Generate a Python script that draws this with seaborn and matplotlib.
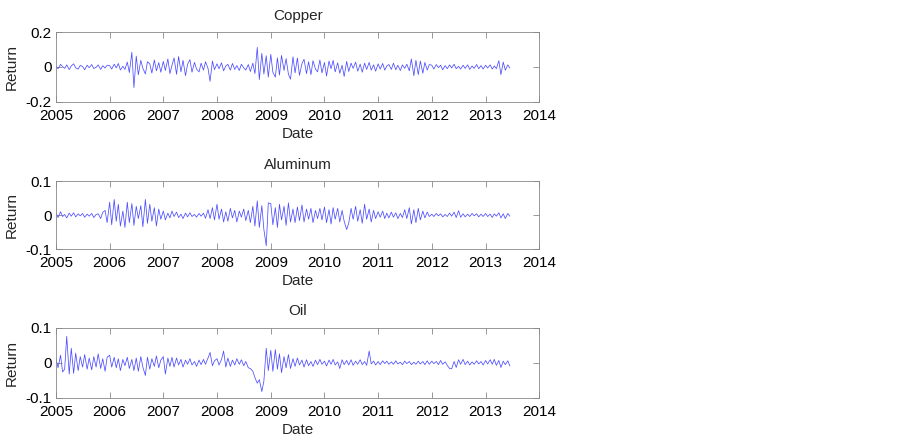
import pandas as pd
import matplotlib
matplotlib.use("Agg")
import matplotlib.pyplot as plt
import matplotlib.dates as mdates
import seaborn as sns

# Returns, in thousandths, twice a month from Jan 2005 to mid 2013
copper = [
    4, -10, 15, 2, -8, 12, -15, 6, 18, -5, -12, 9, 3, -16, 10, -4, 14, -9, -2, 12, -14, 7, -6, 10,
    8, -12, 16, -5, 20, -17, 4, -14, 28, -32, 84, -118, 62, -45, 38, -8, -40, 30, 18, -35, 40, -22, 25, -30,
    32, -20, 46, -38, 10, 52, -42, 60, -28, 38, -50, 15, 42, -30, 26, -12, -28, 22, -18, 30, -8, -82, 34, -15,
    18, -10, 24, -22, 6, 15, -18, 20, -14, 8, -20, 16, -5, -18, 14, -26, 22, -38, 112, -72, 78, -40, 64, -58,
    72, -30, -58, 52, -46, 66, -20, 48, -42, -70, 58, -34, 52, -48, 20, 44, -38, 30, -44, 36, -12, -28, 40, -34,
    26, -52, 34, -10, 38, -28, 24, -36, 10, -54, 32, -26, 22, -8, 28, -24, 16, -30, 22, -14, 26, -18, 12, -24,
    18, -12, 20, -18, 6, 14, -14, 22, -16, 10, -20, 12, -8, 16, -22, 46, -50, 38, -44, 34, -36, 26, -18, 14,
    10, -12, 14, -4, 10, -16, 8, -10, 12, -6, 16, -10, 4, -12, 10, -8, 12, -14, 6, -8, 14, -10, 8, -12,
    10, -6, 12, -12, 6, -10, 36, -44, 28, -18, 12, -6,
]
aluminum = [
    6, -7, 10, -4, 2, -8, 6, -3, 7, -5, 4, -2, 5, -6, 3, -3, 5, -7, 2, 4, -10, 8, 14, -22,
    38, -28, 46, -18, 32, -32, 12, -36, 38, -22, 34, -30, 26, -10, 28, -34, 46, -24, 32, -18, 22, -32, 18, -12,
    12, -14, 6, -8, 12, -4, 9, -7, 3, -10, 6, -5, 7, -4, 2, -6, 5, -3, 6, -9, 16, -10, 22, -14,
    32, -12, 18, -20, 10, -18, 20, -8, 14, -20, 12, -6, 18, -16, 14, -22, 26, -32, 42, -36, 28, -42, -90, 36,
    34, -28, 22, -36, 32, -14, 26, -30, 36, -20, 18, -22, 24, -16, 30, -20, 18, -12, 20, -22, 14, -10, 20, -14,
    24, -22, 16, -26, 22, -12, 20, -20, 14, -18, -42, -24, 20, -12, 26, -18, 16, -24, 32, -12, 18, -20, 14, -10,
    10, -6, 12, -10, 6, -8, 9, -6, 7, -10, 5, -7, 16, -10, 22, -26, 16, -22, 20, -14, 12, -8, 9, -4,
    3, -4, 5, -2, 4, -5, 2, -4, 6, -3, 9, -7, 13, -6, 4, -5, 3, -4, 5, -2, 4, -5, 3, -4,
    5, -4, 3, -7, 4, -3, 7, -8, 4, -10, 5, -3,
]
oil = [
    12, -14, 22, -26, -18, 76, -32, 42, -30, 28, -22, 18, -12, 24, -18, 14, -20, 18, -12, 26, -16, 12, -24, 16,
    22, -12, 16, -14, 12, -22, 10, -8, 16, -16, 10, -22, 14, -24, 18, -12, -36, 16, -18, 12, -10, 20, -14, 8,
    18, -32, 14, -10, 16, -12, 14, -6, 10, -12, 8, -4, 12, -6, 4, -10, 8, -5, 10, -4, 14, 30, -8, 6,
    12, -6, 10, 34, -12, 14, -10, 8, -6, 12, -4, 9, -8, 4, -14, -16, -24, -42, -58, -48, -82, -52, 42, -22,
    36, -24, 38, -18, 26, -28, 18, -14, 24, -16, 12, -10, 14, -6, 8, -12, 9, -8, 4, -10, 8, -5, 10, -4,
    5, -9, 8, -4, 10, -6, 3, -16, 9, -5, 7, -6, 9, -7, 5, -4, 9, -5, 4, -7, 34, -3, 5, -6,
    4, -5, 6, -2, 5, -4, 3, -4, 6, -3, 2, -5, 5, -2, 4, -5, 2, -4, 5, -3, 4, -5, 6, -4,
    5, -2, 4, -5, 7, -4, 3, -7, -16, -17, 4, -13, 9, -4, 10, -5, 5, -6, 3, -4, 6, -3, 4, -6,
    7, -3, 9, -4, 10, -7, 7, -13, 5, -5, 6, -9,
]

titles = ["Copper", "Aluminum", "Oil"]
series = [copper, aluminum, oil]
y_limits = [0.2, 0.1, 0.1]
year_ticks = list(range(2005, 2015))

sns.set_theme(style="ticks")
plt.rcParams["font.family"] = ["Liberation Sans", "DejaVu Sans"]

fig = plt.figure(figsize=(9, 4.45), dpi=100)
positions = [
    [0.0622, 0.771, 0.537, 0.157],
    [0.0622, 0.440, 0.537, 0.153],
    [0.0622, 0.106, 0.537, 0.157],
]

for pos, title, vals, lim in zip(positions, titles, series, y_limits):
    ax = fig.add_axes(pos)
    df = pd.DataFrame({
        "Date": pd.date_range("2005-01-01", periods=len(vals), freq="SMS"),
        "Return": [v / 1000 for v in vals],
    })
    sns.lineplot(data=df, x="Date", y="Return", ax=ax, color=(0.3, 0.3, 1.0), linewidth=0.55)
    ax.set_xlim(pd.Timestamp("2005-01-01"), pd.Timestamp("2014-01-01"))
    ax.set_ylim(-lim, lim)
    ax.set_xticks([pd.Timestamp(f"{y}-01-01") for y in year_ticks])
    ax.xaxis.set_major_formatter(mdates.DateFormatter("%Y"))
    ax.set_yticks([-lim, 0, lim])
    ax.set_yticklabels([f"{-lim:g}", "0", f"{lim:g}"])
    ax.set_title(title, fontsize=11, pad=9)
    ax.set_xlabel("Date", fontsize=11, labelpad=3)
    ax.set_ylabel("Return", fontsize=11, labelpad=5)
    ax.tick_params(direction="in", length=4, top=True, right=True, labelsize=11,
                   color="#888888", width=0.6, labelcolor="black")
    ax.tick_params(axis="x", pad=5)
    ax.tick_params(axis="y", pad=3)
    for sp in ax.spines.values():
        sp.set_visible(True)
        sp.set_color("#888888")
        sp.set_linewidth(0.6)

fig.savefig("out.png", dpi=100)
